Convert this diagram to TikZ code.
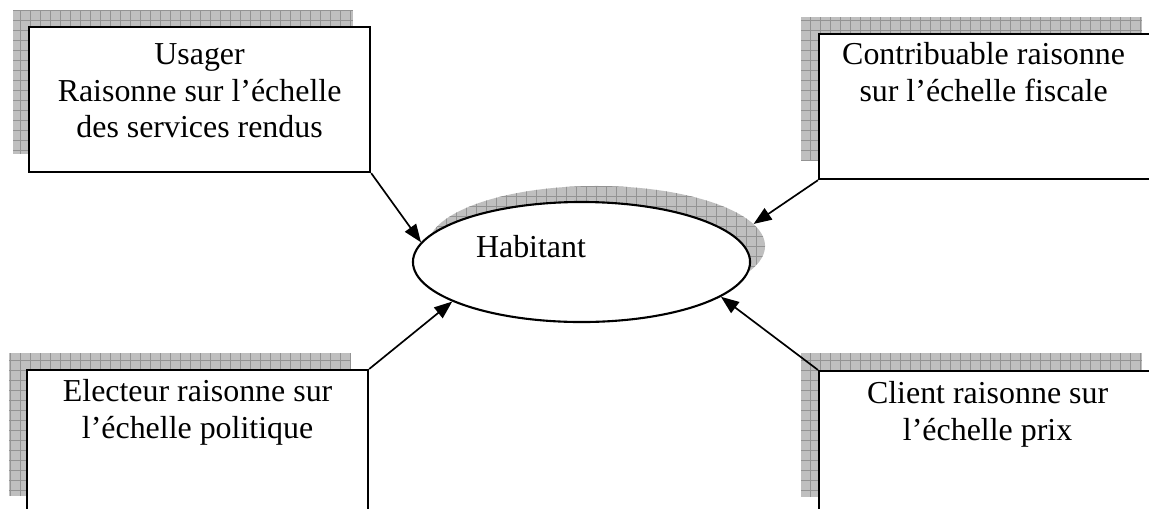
\documentclass[tikz,border=0pt]{standalone}
\usepackage{fontspec}
\setmainfont{Liberation Serif}
\usetikzlibrary{shapes.geometric,arrows.meta}

\begin{document}
\begin{tikzpicture}  % ------ L'habitant et ses quatre echelles -------
      [x=0.025cm,y=-0.025cm,
       cadre/.style={draw, line width=1.5pt, fill=white, rectangle, anchor=north west,
                     minimum width=8.525cm, minimum height=3.625cm, inner sep=0pt},
       ombre/.style={fill=gray!50, draw=none, path picture={\draw[gray!85, line width=0.5pt]
            (path picture bounding box.south west) grid[step=0.25cm] (path picture bounding box.north east);}},
       texte/.style={anchor=north, inner sep=0pt, align=center, font=\fontsize{22.7}{26.2}\selectfont},
       fleche/.style={-{Triangle[length=0.45cm,width=0.34cm]}, line width=1.2pt}]

    \useasboundingbox (0,0) rectangle (1149,508);
    \clip (0,0) rectangle (1149,508);

    % ombres
    \path[ombre] (13,10) rectangle (353,154);
    \path[ombre] (801,17) rectangle (1142,161);
    \path[ombre] (9,353) rectangle (351,496);
    \path[ombre] (801,353) rectangle (1142,497);
    \node[ombre, ellipse, minimum width=8.425cm, minimum height=3cm, inner sep=0pt] (ombre) at (596.5,246) {};

    \node[ellipse, draw, line width=1.5pt, fill=white, minimum width=8.425cm, minimum height=3cm, inner sep=0pt] (habitant) at (581.5,262) {};
    \node[texte, anchor=base] (habitant-texte) at (531,257) {Habitant};

    \node[cadre] (usager) at (28,26) {};
    \node[texte] (usager-texte) at ([yshift=-0.425cm]usager.north) {Usager\\Raisonne sur l’échelle\\des services rendus};

    \node[cadre] (contribuable) at (818,33) {};
    \node[texte] (contribuable-texte) at ([xshift=-0.15cm,yshift=-0.225cm]contribuable.north) {Contribuable raisonne\\sur l’échelle fiscale};

    \node[cadre] (electeur) at (26,369) {};
    \node[texte] (electeur-texte) at ([yshift=-0.25cm]electeur.north) {Electeur raisonne sur\\l’échelle politique};

    \node[cadre] (client) at (818,370) {};
    \node[texte] (client-texte) at ([xshift=-0.05cm,yshift=-0.275cm]client.north) {Client raisonne sur\\l’échelle prix};

    \draw[fleche] (usager.south east) -- (habitant.173);
    \draw[fleche] (contribuable.south west) -- (ombre.8);   % la pointe touche l'ombre
    \draw[fleche] (electeur.north east) -- (habitant.197);
    \draw[fleche] (client.north west) -- (habitant.-14);
\end{tikzpicture}
\end{document}
